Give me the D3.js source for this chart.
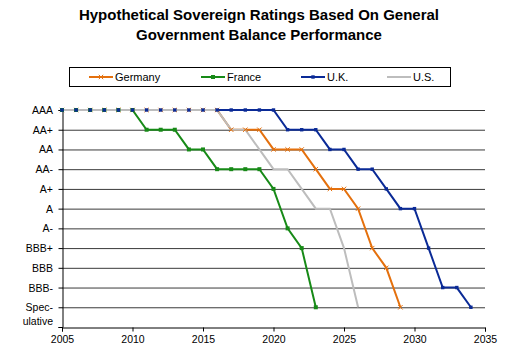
<!DOCTYPE html>
<html><head><meta charset="utf-8">
<script src="https://cdn.jsdelivr.net/npm/d3@7"></script>
<style>body{margin:0;background:#fff}svg{display:block;font-family:"Liberation Sans",Arial,sans-serif}</style>
</head><body><svg width="512" height="356"></svg>
<script>
const ratings = ["AAA","AA+","AA","AA-","A+","A","A-","BBB+","BBB","BBB-","Spec-|ulative"];
const xTicks = [2005,2010,2015,2020,2025,2030,2035];
const germanyYears = [2005,2006,2007,2008,2009,2010,2011,2012,2013,2014,2015,2016,2017,2018,2019,2020,2021,2022,2023,2024,2025,2026,2027,2028,2029];
const germany = ["AAA","AAA","AAA","AAA","AAA","AAA","AAA","AAA","AAA","AAA","AAA","AAA","AA+","AA+","AA+","AA","AA","AA","AA-","A+","A+","A","BBB+","BBB","Spec-|ulative"];
const franceYears = [2005,2006,2007,2008,2009,2010,2011,2012,2013,2014,2015,2016,2017,2018,2019,2020,2021,2022,2023];
const france = ["AAA","AAA","AAA","AAA","AAA","AAA","AA+","AA+","AA+","AA","AA","AA-","AA-","AA-","AA-","A+","A-","BBB+","Spec-|ulative"];
const ukYears = [2005,2006,2007,2008,2009,2010,2011,2012,2013,2014,2015,2016,2017,2018,2019,2020,2021,2022,2023,2024,2025,2026,2027,2028,2029,2030,2031,2032,2033,2034];
const uk = ["AAA","AAA","AAA","AAA","AAA","AAA","AAA","AAA","AAA","AAA","AAA","AAA","AAA","AAA","AAA","AAA","AA+","AA+","AA+","AA","AA","AA-","AA-","A+","A","A","BBB+","BBB-","BBB-","Spec-|ulative"];
const usYears = [2005,2006,2007,2008,2009,2010,2011,2012,2013,2014,2015,2016,2017,2018,2019,2020,2021,2022,2023,2024,2025,2026];
const us = ["AAA","AAA","AAA","AAA","AAA","AAA","AAA","AAA","AAA","AAA","AAA","AAA","AA+","AA+","AA","AA-","AA-","A+","A","A","BBB+","Spec-|ulative"];

const svg = d3.select("svg");
const x = d3.scaleLinear().domain([2005,2035]).range([62,485]);
const y = d3.scaleLinear().domain([0,11]).range([110,327]);
const yr = r => y(ratings.indexOf(r));

// title
svg.append("text").attr("x",259).attr("y",20).attr("text-anchor","middle")
  .attr("font-size",15).attr("font-weight","bold").text("Hypothetical Sovereign Ratings Based On General");
svg.append("text").attr("x",259).attr("y",40).attr("text-anchor","middle")
  .attr("font-size",15).attr("font-weight","bold").text("Government Balance Performance");

// gridlines
svg.append("g").selectAll("line").data(d3.range(ratings.length)).join("line")
  .attr("x1",62).attr("x2",485).attr("y1",d=>y(d)+0.5).attr("y2",d=>y(d)+0.5)
  .attr("stroke","#3a3a3a").attr("stroke-width",1);

// axes
const gx = svg.append("g").attr("transform","translate(0,327.5)")
  .call(d3.axisBottom(x).tickValues(xTicks).tickFormat(d3.format("d")).tickSize(4).tickPadding(4));
gx.select(".domain").attr("stroke","#000");
gx.selectAll("text").attr("font-size",10.5).attr("font-family","Liberation Sans, Arial, sans-serif").attr("fill","#000");

const gy = svg.append("g").attr("transform","translate(62.5,0)")
  .call(d3.axisLeft(y).tickValues(d3.range(12)).tickFormat("").tickSize(4));
gy.select(".domain").attr("stroke","#000");
const yl = svg.append("g").selectAll("text").data(ratings).join("text")
  .attr("x",53).attr("text-anchor","end").attr("font-size",10.5).attr("fill","#000");
yl.each(function(d,i){
  const parts = d.split("|");
  const t = d3.select(this);
  if(parts.length===1){ t.attr("y",y(i)+4).text(d); }
  else {
    t.attr("y",y(i)+4).text(parts[0]);
    svg.append("text").attr("x",53).attr("y",y(i)+18).attr("text-anchor","end")
      .attr("font-size",10.5).attr("fill","#000").text(parts[1]);
  }
});

const series = [
  {name:"Germany", years:germanyYears, vals:germany, color:"#e4700d", marker:"x"},
  {name:"France", years:franceYears, vals:france, color:"#178a17", marker:"sq"},
  {name:"U.K.", years:ukYears, vals:uk, color:"#0a2a96", marker:"dot"},
  {name:"U.S.", years:usYears, vals:us, color:"#bdbdbd", marker:null}
];
const line = d3.line().x(d=>x(d[0])).y(d=>yr(d[1]));

function drawMarker(g, type, cx, cy, color){
  if(type==="x"){
    g.append("path").attr("d",`M${cx-2.2},${cy-2.2}L${cx+2.2},${cy+2.2}M${cx-2.2},${cy+2.2}L${cx+2.2},${cy-2.2}`)
      .attr("stroke",color).attr("stroke-width",1).attr("fill","none");
  } else if(type==="sq"){
    g.append("rect").attr("x",cx-2).attr("y",cy-2).attr("width",4).attr("height",4).attr("fill",color);
  } else if(type==="dot"){
    g.append("rect").attr("x",cx-1.7).attr("y",cy-1.7).attr("width",3.4).attr("height",3.4).attr("fill",color);
  }
}

// Lines of all series first, then markers (as in the original spreadsheet chart)
const data = series.map(s=>s.years.map((yy,i)=>[yy,s.vals[i]]));
const linesG = svg.append("g");
series.forEach((s,k)=>{
  linesG.append("path").attr("d",line(data[k])).attr("fill","none").attr("stroke",s.color).attr("stroke-width",2);
});
const markG = svg.append("g");
series.forEach((s,k)=>{
  if(s.marker) data[k].forEach(p=>drawMarker(markG,s.marker,x(p[0]),yr(p[1]),s.color));
});

// legend
const lg = svg.append("g");
lg.append("rect").attr("x",69.5).attr("y",67.5).attr("width",381).attr("height",19)
  .attr("fill","#fff").attr("stroke","#000").attr("stroke-width",1);
const lx = [89,201,301,387];
series.forEach((s,i)=>{
  const ly = 77;
  lg.append("line").attr("x1",lx[i]).attr("x2",lx[i]+24).attr("y1",ly).attr("y2",ly)
    .attr("stroke",s.color).attr("stroke-width",2);
  if(s.marker) drawMarker(lg,s.marker,lx[i]+12,ly,s.color);
  lg.append("text").attr("x",lx[i]+26).attr("y",ly+4).attr("font-size",11).attr("fill","#000").text(s.name);
});
</script></body></html>
